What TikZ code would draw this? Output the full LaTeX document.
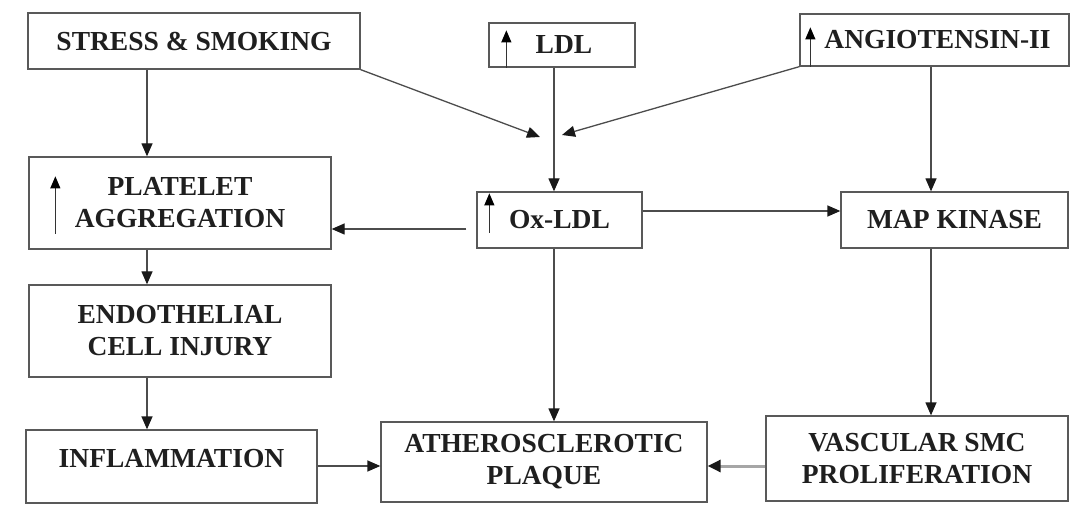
\documentclass[tikz,border=0pt]{standalone}
\usepackage{fontspec}
\setmainfont{Liberation Serif}
\usetikzlibrary{arrows.meta,calc}
\tikzset{
  box/.style={draw=black!65, line width=1.3pt, rectangle, inner sep=0pt, align=center,
    font=\fontsize{27.5}{32}\selectfont\bfseries, text=black!88},
  arr/.style={draw=black!70, line width=1.3pt, -{Triangle[length=13pt,width=11pt,color=black!90]}},
  uparr/.style={draw=black!80, line width=1.1pt, -{Triangle[length=12pt,width=10pt,color=black]}},
  thickarr/.style={draw=black!35, line width=3pt, -{Triangle[length=13pt,width=12pt,color=black!90]}}
}
\begin{document}
\begin{tikzpicture}[x=1pt,y=-1pt]
\useasboundingbox[fill=white] (0,0) rectangle (1074,529);
% boxes
\node[box, minimum width=332pt, minimum height=56pt] (stress) at (194,41) {STRESS \& SMOKING};
\node[box, minimum width=146pt, minimum height=44pt] (ldl) at (562,45) {\hspace*{4pt}LDL};
\node[box, minimum width=269pt, minimum height=52pt] (angio) at (934.5,40) {\hspace*{6pt}ANGIOTENSIN-II};
\node[box, minimum width=302pt, minimum height=92pt] (plat) at (180,203) {PLATELET\\AGGREGATION};
\node[box, minimum width=165pt, minimum height=56pt] (ox) at (559.5,220) {Ox-LDL};
\node[box, minimum width=227pt, minimum height=56pt] (map) at (954.5,220) {MAP KINASE};
\node[box, minimum width=302pt, minimum height=92pt] (endo) at (180,331) {ENDOTHELIAL\\CELL INJURY};
\node[box, minimum width=291pt, minimum height=73pt, text depth=16pt] (infl) at (171.5,466.5) {INFLAMMATION};
\node[box, minimum width=326pt, minimum height=80pt] (ath) at (544,462) {ATHEROSCLEROTIC\\PLAQUE};
\node[box, minimum width=302pt, minimum height=85pt] (vasc) at (917,458.5) {VASCULAR SMC\\PROLIFERATION};
% up arrows inside boxes
\draw[uparr] ($(plat.south west)+(27,-16)$) -- ($(plat.north west)+(27,20)$);
\draw[uparr] ($(ldl.south west)+(18,0)$) -- ($(ldl.north west)+(18,8)$);
\draw[uparr] ($(angio.south west)+(11,0)$) -- ($(angio.north west)+(11,14)$);
\draw[uparr] ($(ox.south west)+(13,-16)$) -- ($(ox.north west)+(13,2)$);
% guide coordinates
\coordinate (xL) at (147,0);
\coordinate (xM) at (554,0);
\coordinate (xR) at (931,0);
\coordinate (yB) at (0,466);
\coordinate (cL) at (540,137);
\coordinate (cR) at (562,135);
% connectors
\draw[arr] (stress.south -| xL) -- (plat.north -| xL);
\draw[arr] (plat.south -| xL) -- (endo.north -| xL);
\draw[arr] (endo.south -| xL) -- (infl.north -| xL);
\draw[arr] (stress.south east) -- (cL);
\draw[arr] (angio.south west) -- (cR);
\draw[arr] (ldl.south -| xM) -- (ox.north -| xM);
\draw[arr] (ox.south -| xM) -- (ath.north -| xM);
\draw[arr] (angio.south -| xR) -- (map.north -| xR);
\draw[arr] (map.south -| xR) -- (vasc.north -| xR);
\draw[arr] ($(ox.east)+(0,-9)$) coordinate (s2) -- (s2 -| map.west);
\draw[arr] ($(ox.west)+(-10,9)$) coordinate (s1) -- (s1 -| plat.east);
\draw[arr] (infl.east |- yB) -- (ath.west |- yB);
\draw[thickarr] (vasc.west |- yB) -- (ath.east |- yB);
\end{tikzpicture}
\end{document}
